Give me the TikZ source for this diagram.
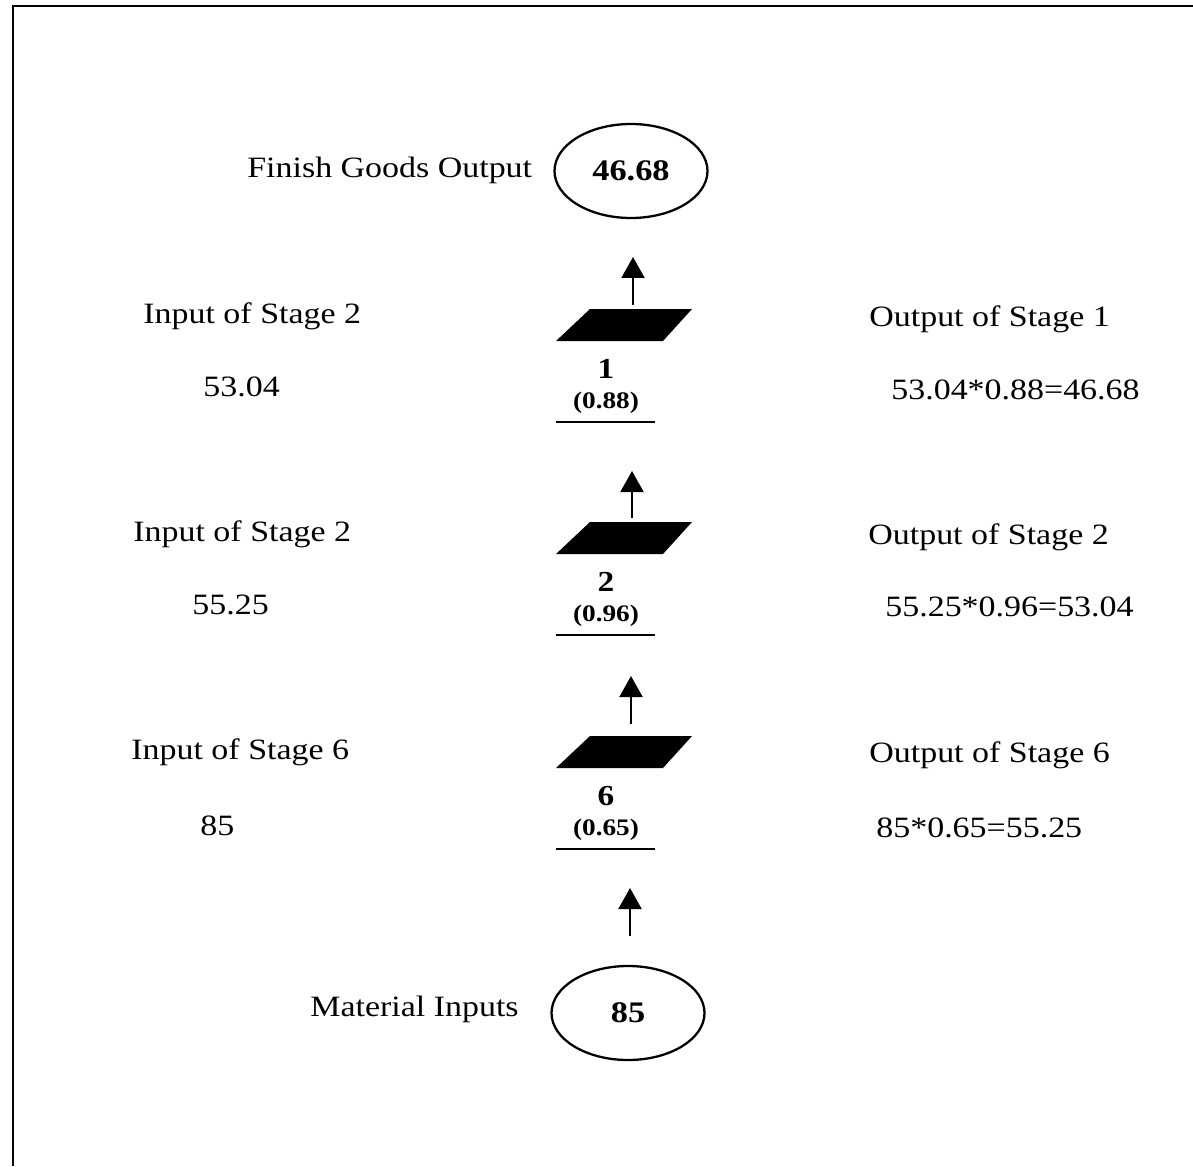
\documentclass[tikz,border=0pt]{standalone}
\usepackage{fontspec}
\setmainfont{Liberation Serif}[FakeStretch=1.15]
\usetikzlibrary{arrows.meta,shapes.geometric}
\begin{document}
\begin{tikzpicture}[x=0.02cm,y=-0.02cm,
  lbl/.style={anchor=west,inner sep=0pt,font=\fontsize{16.8}{20}\selectfont},
  stagenum/.style={inner sep=0pt,font=\fontsize{16.5}{19}\selectfont\bfseries},
  rate/.style={inner sep=0pt,font=\fontsize{13.5}{16}\selectfont\bfseries},
  goods/.style={ellipse,draw,line width=1.3pt,minimum width=153*0.02cm,minimum height=94*0.02cm,inner sep=0pt,font=\fontsize{17}{20}\selectfont\bfseries},
  flow/.style={line width=1.2pt,-{Triangle[width=0.46cm,length=0.42cm]}},
  block/.style={fill=black},
  rule/.style={line width=0.9pt}]
\useasboundingbox (0,0) rectangle (1193,1166);
% frame
\draw[line width=1.7pt] (13,1166) -- (13,6) -- (1193,6);

% end points of the chain
\node[goods] (out) at (631,171) {46.68};
\node[goods] (in) at (628,1013) {85};
\node[lbl] (outlbl) at (247,170) {Finish Goods Output};
\node[lbl] (inlbl) at (310,1009) {Material Inputs};

% stages: parallelogram, number, yield and rule
\foreach \name/\y/\num/\yield in {s1/309/1/0.88, s2/522/2/0.96, s6/736/6/0.65}{
  \fill[block] (590,\y) coordinate (\name-tl) -- (692,\y) coordinate (\name-tr)
     -- (663,\y+32) -- (556,\y+32) -- cycle;
  \node[stagenum] (\name-num) at (606,\y+60) {\num};
  \node[rate] (\name-rate) at (606,\y+94) {(\yield)};
  \coordinate (\name-ra) at (556,\y+113);
  \coordinate (\name-rb) at (655,\y+113);
  \draw[rule] (\name-ra) -- (\name-rb);
}

% arrows between the stages
\coordinate (a1s) at (633,305); \coordinate (a1e) at (633,257);
\coordinate (a2s) at (632,518); \coordinate (a2e) at (632,471);
\coordinate (a3s) at (631,724); \coordinate (a3e) at (631,676);
\coordinate (a4s) at (630,936); \coordinate (a4e) at (630,888);
\draw[flow] (a1s) -- (a1e);
\draw[flow] (a2s) -- (a2e);
\draw[flow] (a3s) -- (a3e);
\draw[flow] (a4s) -- (a4e);

% left column: inputs
\node[lbl] (i1) at (143,316) {Input of Stage 2};
\node[lbl] (i1v) at (203,387) {53.04};
\node[lbl] (i2) at (133,534) {Input of Stage 2};
\node[lbl] (i2v) at (192,605) {55.25};
\node[lbl] (i6) at (131,752) {Input of Stage 6};
\node[lbl] (i6v) at (200,826) {85};

% right column: outputs
\node[lbl] (o1) at (869,319) {Output of Stage 1};
\node[lbl] (o1v) at (891,390) {53.04*0.88=46.68};
\node[lbl] (o2) at (868,537) {Output of Stage 2};
\node[lbl] (o2v) at (885,607) {55.25*0.96=53.04};
\node[lbl] (o6) at (869,755) {Output of Stage 6};
\node[lbl] (o6v) at (876,828) {85*0.65=55.25};
\end{tikzpicture}
\end{document}
